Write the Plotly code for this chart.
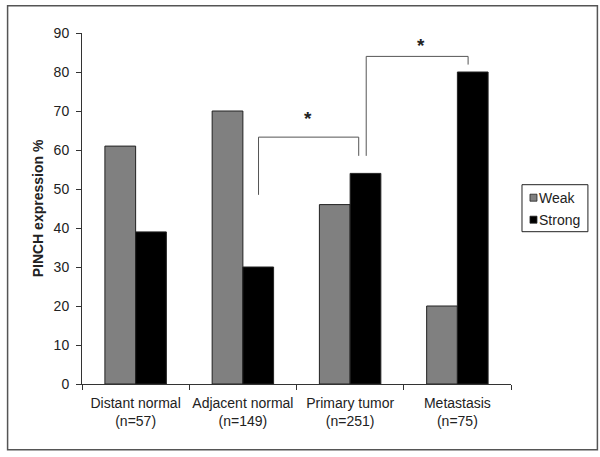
import plotly.graph_objects as go

categories = ["Distant normal<br>(n=57)", "Adjacent normal<br>(n=149)",
              "Primary tumor<br>(n=251)", "Metastasis<br>(n=75)"]
weak = [61, 70, 46, 20]
strong = [39, 30, 54, 80]
series_names = ["Weak", "Strong"]
series_colors = ["#808080", "#000000"]
y_ticks = [0, 10, 20, 30, 40, 50, 60, 70, 80, 90]

# significance brackets: (x_left, x_right, y_left_bottom, y_top, y_right_bottom)
brackets = [(1.146, 2.08, 48.5, 63.3, 58.5),
            (2.15, 3.10, 58.5, 84.0, 81.9)]
stars = [(1.61, 68.0), (2.66, 86.8)]

W, H = 600, 457
L, R, T, B = 81.5, 89, 33.3, 72.7
pw, ph = W - L - R, H - T - B


def px_x(p):
    return (p - L) / pw


def px_y(p):
    return (H - B - p) / ph


fig = go.Figure()
for name, vals, col in zip(series_names, [weak, strong], series_colors):
    fig.add_trace(go.Bar(x=categories, y=vals, name=name, showlegend=False,
                         marker=dict(color=col, line=dict(color="#222222", width=1))))

shapes = []
for (xl, xr, yl, yt, yr) in brackets:
    shapes.append(dict(type="path", xref="x", yref="y",
                       path=f"M {xl},{yl} L {xl},{yt} L {xr},{yt} L {xr},{yr}",
                       line=dict(color="#555555", width=1)))
# outer frame
shapes.append(dict(type="rect", xref="paper", yref="paper",
                   x0=px_x(7), x1=px_x(597.5), y0=px_y(450), y1=px_y(6),
                   line=dict(color="#555555", width=1.5)))
# legend box
shapes.append(dict(type="rect", xref="paper", yref="paper",
                   x0=px_x(522), x1=px_x(588), y0=px_y(232), y1=px_y(185),
                   line=dict(color="#222222", width=1), fillcolor="white"))

annotations = [dict(x=x, y=y, xref="x", yref="y", text="<b>*</b>", showarrow=False,
                    font=dict(size=19, color="#222222"))
               for (x, y) in stars]

# legend entries
for i, (name, col) in enumerate(zip(series_names, series_colors)):
    cy = 198 + i * 22
    shapes.append(dict(type="rect", xref="paper", yref="paper",
                       x0=px_x(530), x1=px_x(537), y0=px_y(cy + 3.5), y1=px_y(cy - 3.5),
                       fillcolor=col, line=dict(color="#222222", width=0.8)))
    annotations.append(dict(x=px_x(537.5), y=px_y(cy), xref="paper", yref="paper",
                            text=name, showarrow=False, xanchor="left", yanchor="middle",
                            font=dict(size=14, color="#222222")))

fig.update_layout(
    width=W, height=H,
    margin=dict(l=L, r=R, t=T, b=B, pad=0, autoexpand=False),
    paper_bgcolor="white", plot_bgcolor="white",
    barmode="group", bargap=0.427, bargroupgap=0,
    font=dict(family="Liberation Sans, Arial, sans-serif", size=14, color="#222222"),
    showlegend=False,
    shapes=shapes, annotations=annotations,
)
fig.update_xaxes(showline=True, linecolor="#333333", linewidth=1, tickangle=0,
                 automargin=False, ticklabelstandoff=6,
                 ticks="outside", tickson="boundaries", ticklen=5, tickcolor="#333333",
                 showgrid=False, tickfont=dict(size=14))
fig.update_yaxes(range=[0, 90], tickvals=y_ticks, showline=True, linecolor="#333333",
                 linewidth=1, ticks="outside", ticklen=5, tickcolor="#333333",
                 automargin=False, ticklabelstandoff=4,
                 showgrid=False, zeroline=False, tickfont=dict(size=14),
                 title=dict(text="<b>PINCH expression %</b>", font=dict(size=14), standoff=6))

fig.write_html("out.html", config={"displayModeBar": False},
               post_script="document.body.style.margin='0';document.body.style.overflow='hidden';")
